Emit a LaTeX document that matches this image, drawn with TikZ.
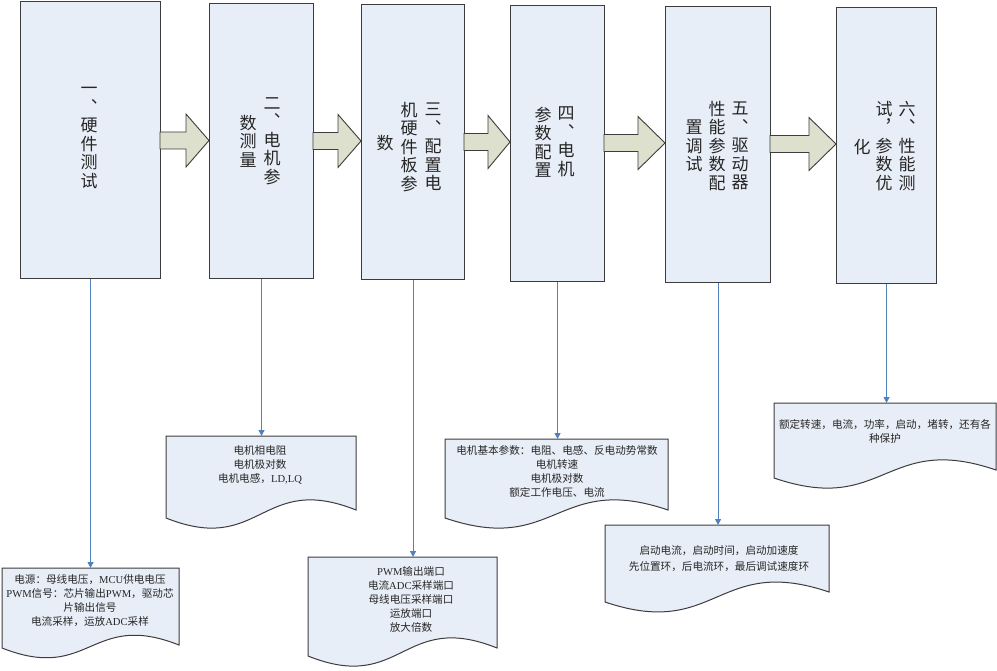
\documentclass[tikz,border=0pt]{standalone}
\usepackage{fontspec}
\setmainfont{Liberation Serif}
\newfontfamily\cjk{Noto Sans CJK SC}
\usetikzlibrary{arrows.meta,calc}
\definecolor{boxfill}{HTML}{E8EEF7}
\definecolor{arrfill}{HTML}{DDE0CC}
\definecolor{edgecol}{HTML}{3C3C3C}
\definecolor{conncol}{HTML}{4F81BD}
\definecolor{txtcol}{HTML}{262626}
\newcommand\zh[1]{{\cjk #1}}
\newcommand\stagebox[5]{%
  \node[stagestyle, minimum width={#4-#2}, minimum height={#5-#3}] (#1) at (#2,#3) {};}
\newcommand\docshape[7]{%
  \path[docline] (#2,#3) -- (#4,#3) -- (#4,#6) .. controls ({(#2+#4)/2},{#6-#7}) and ({(#2+#4)/2},{#5+#7}) .. (#2,#5) -- cycle;
  \node[inner sep=0pt, minimum width={#4-#2}, minimum height={#5-#3}, anchor=north west] (#1) at (#2,#3) {};}
\newcommand\flowarrow[4]{%
  \path[flowstyle] (#1,{#4-8.5}) -- (#2,{#4-8.5}) -- (#2,{#4-26.5}) -- (#3,#4) -- (#2,{#4+26.5}) -- (#2,{#4+8.5}) -- (#1,{#4+8.5}) -- cycle;}
\begin{document}
\begin{tikzpicture}[x=1pt,y=-1pt,
  stagestyle/.style={draw=edgecol, fill=boxfill, line width=1.1pt, anchor=north west, inner sep=0pt},
  docline/.style={draw=edgecol, fill=boxfill, line width=1pt},
  flowstyle/.style={draw=edgecol, fill=arrfill, line width=0.9pt, line join=miter},
  coltext/.style={font=\cjk\fontsize{17}{18.5}\selectfont, align=center, inner sep=0pt, text=txtcol},
  doctext/.style={font=\fontsize{10.6}{14}\selectfont, align=center, inner sep=0pt, text=txtcol},
  conn/.style={draw=conncol, line width=0.9pt, -{Triangle[length=6pt,width=6pt]}}]
\useasboundingbox (0,0) rectangle (997,671);

% stage boxes
\stagebox{b1}{20}{1}{160}{278}
\stagebox{b2}{209}{3}{313}{278}
\stagebox{b3}{361}{4}{464}{279}
\stagebox{b4}{510}{5}{604}{281}
\stagebox{b5}{665}{6}{770}{282}
\stagebox{b6}{836}{7}{936}{283}

% vertical texts (columns right to left)
\node[coltext] (b1c1) at (89,138) {一\\︑\\硬\\件\\测\\试};
\node[coltext] (b2c1) at (272,141) {二\\︑\\电\\机\\参};
\node[coltext] (b2c2) at (248,141) {数\\测\\量};
\node[coltext] (b3c1) at (433,147) {三\\︑\\配\\置\\电};
\node[coltext] (b3c2) at (409,147) {机\\硬\\件\\板\\参};
\node[coltext] (b3c3) at (385,143) {数};
\node[coltext] (b4c1) at (566,142) {四\\︑\\电\\机};
\node[coltext] (b4c2) at (543,142) {参\\数\\配\\置};
\node[coltext] (b5c1) at (740,146) {五\\︑\\驱\\动\\器};
\node[coltext] (b5c2) at (717,146) {性\\能\\参\\数\\配};
\node[coltext] (b5c3) at (694,146) {置\\调\\试};
\node[coltext] (b6c1) at (907,146) {六\\︑\\性\\能\\测};
\node[coltext] (b6c2) at (884,146) {试\\︐\\参\\数\\优};
\node[coltext] (b6c3) at (862,147) {化};

% block arrows between stages
\flowarrow{160}{186}{209}{140.5}
\flowarrow{313}{338}{361}{141}
\flowarrow{464}{488}{510}{142}
\flowarrow{604}{638}{665}{143}
\flowarrow{770}{809}{836}{144}

% document shapes
\docshape{d1}{2}{568}{179}{648}{645}{35}
\docshape{d2}{166}{436}{356}{518}{510}{38}
\docshape{d3}{308}{557}{497}{656}{648}{38}
\docshape{d4}{445}{439}{668}{518}{510}{38}
\docshape{d5}{605}{525}{829}{602}{592}{38}
\docshape{d6}{774}{403}{996}{478}{470}{38}

% document texts
\node[doctext] (t1) at (90,601) {\zh{电源：母线电压，}MCU\zh{供电电压}\\PWM\zh{信号：芯片输出}PWM\zh{，驱动芯}\\\zh{片输出信号}\\\zh{电流采样，运放}ADC\zh{采样}};
\node[doctext] (t2) at (260,465) {\zh{电机相电阻}\\\zh{电机极对数}\\\zh{电机电感，}LD,LQ};
\node[doctext] (t3) at (411,599) {PWM\zh{输出端口}\\\zh{电流}ADC\zh{采样端口}\\\zh{母线电压采样端口}\\\zh{运放端口}\\\zh{放大倍数}};
\node[doctext] (t4) at (557,471) {\zh{电机基本参数：电阻、电感、反电动势常数}\\\zh{电机转速}\\\zh{电机极对数}\\\zh{额定工作电压、电流}};
\node[doctext, font=\fontsize{10.6}{16.5}\selectfont] (t5) at (719,558.5) {\zh{启动电流，启动时间，启动加速度}\\\zh{先位置环，后电流环，最后调试速度环}};
\node[doctext] (t6) at (885,431.5) {\zh{额定转速，电流，功率，启动，堵转，还有各}\\\zh{种保护}};

% connectors
\draw[conn] (b1.south) -- (b1.south |- d1.north);
\draw[conn] (b2.south) -- (b2.south |- d2.north);
\draw[conn] (b3.south) -- (b3.south |- d3.north);
\draw[conn] (b4.south) -- (b4.south |- d4.north);
\draw[conn] (b5.south) -- (b5.south |- d5.north);
\draw[conn] (b6.south) -- (b6.south |- d6.north);
\end{tikzpicture}
\end{document}
